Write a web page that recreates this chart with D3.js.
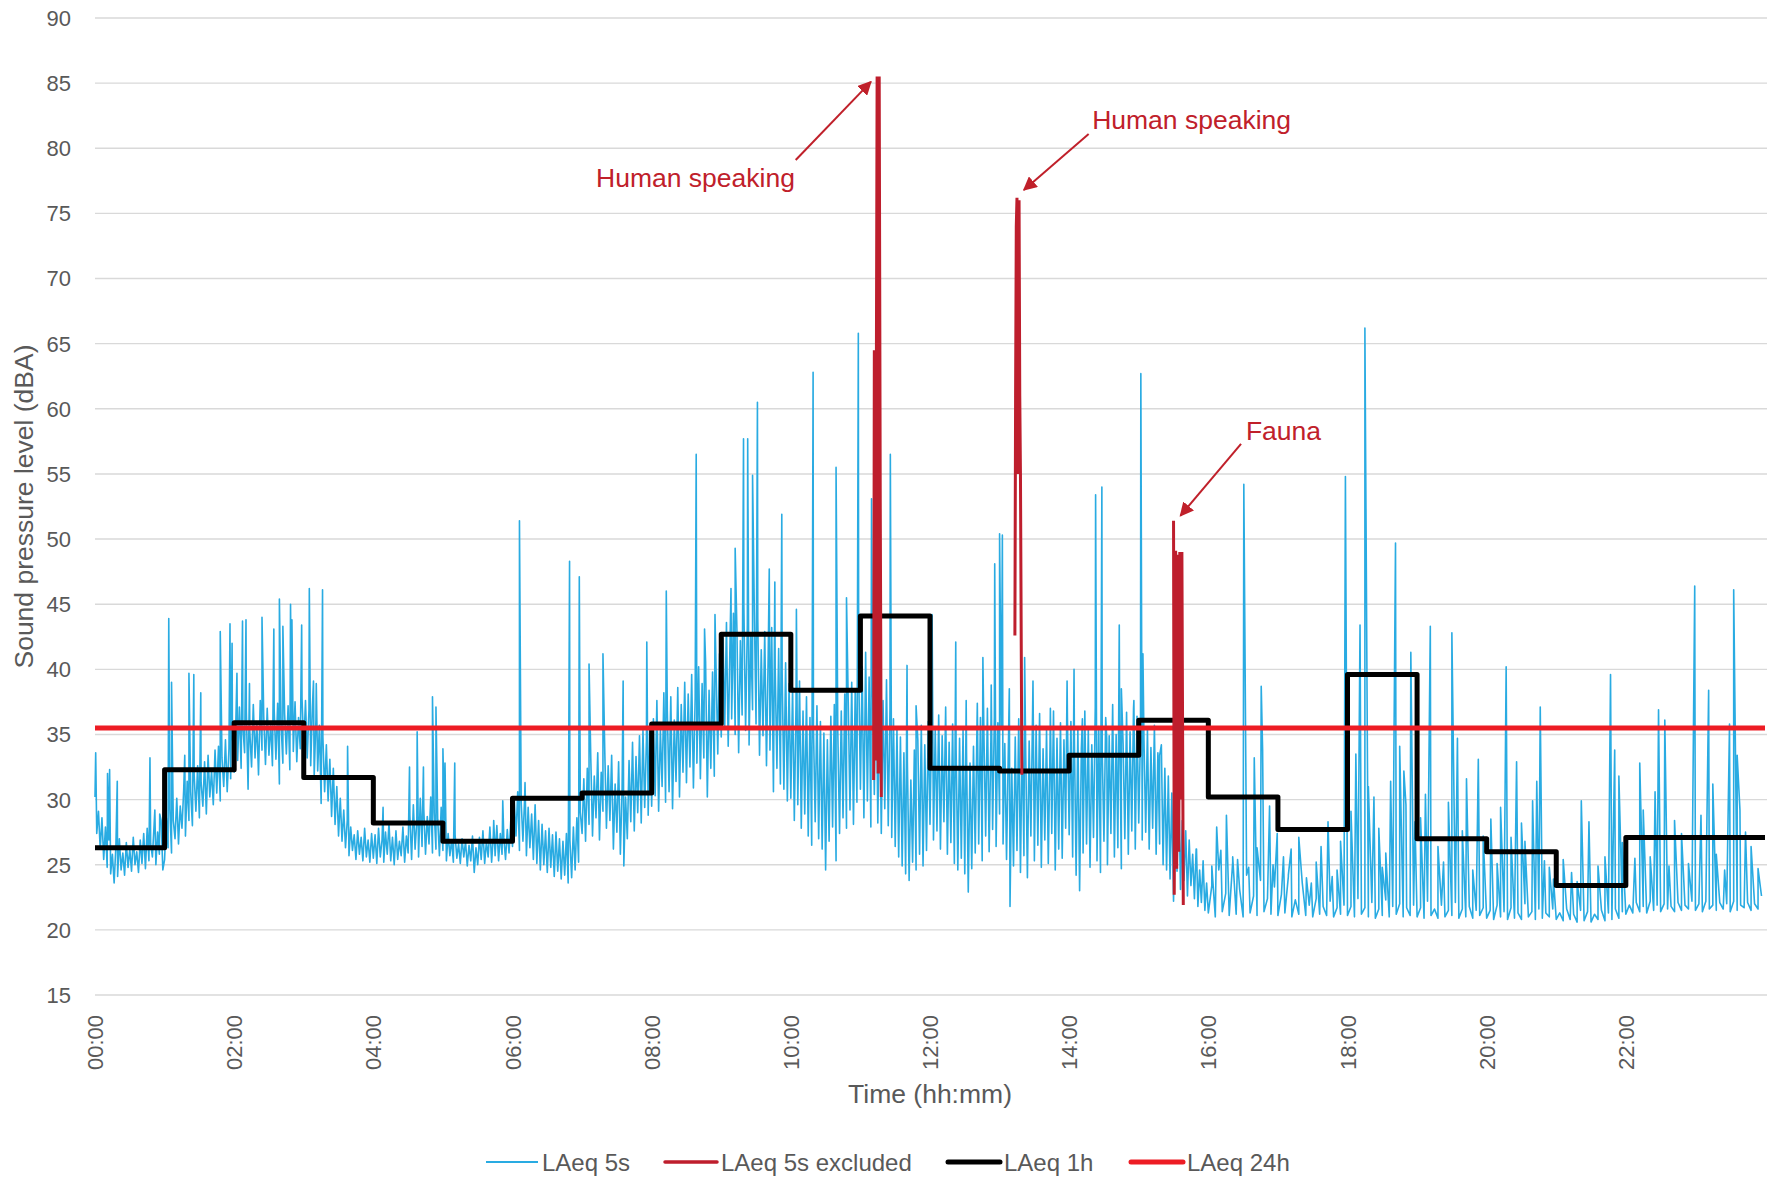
<!DOCTYPE html>
<html>
<head>
<meta charset="utf-8">
<script src="https://cdn.jsdelivr.net/npm/d3@7/dist/d3.min.js"></script>
<style>
  body { margin: 0; background: #fff; }
  svg { display: block; font-family: "Liberation Sans", Arial, sans-serif; }
  .grid line { stroke: #d9d9d9; stroke-width: 1.4; }
  .tick-label { fill: #595959; font-size: 22px; }
  .axis-title { fill: #595959; font-size: 26.5px; }
  .legend text { fill: #595959; font-size: 24px; }
  .note { fill: #c0202a; font-size: 26.5px; }
</style>
</head>
<body>
<div id="chart"></div>
<script>
// LAeq 5s, one row per hour (dBA); readings spread evenly over the hour
const laeq5s = [
  [30.2,27.4,29.1,26.2,28.6,25.4,27.9,24.8,26.9,24.3, 25.8,23.6,26.4,24.1,27.0,24.6,25.9,24.2,26.7,24.8, 26.2,24.5,27.1,25.0,26.0,24.4,26.9,25.1,27.4,24.7, 27.8,25.3,26.6,25.6,28.1,25.0,27.5,25.8,28.4,24.6],
  [25.4,28.6,26.3,29.3,25.9,28.4,27.0,30.1,26.6,29.5, 27.8,30.8,27.2,31.4,28.4,30.6,28.0,31.9,29.1,32.6, 28.6,31.3,29.5,32.9,28.9,33.4,30.2,32.2,29.6,33.8, 30.5,34.1,29.9,33.2,31.0,34.6,30.6,33.9,31.6,35.1],
  [32.1,36.2,33.0,37.1,32.4,35.6,33.6,36.8,30.8,35.2, 32.5,37.3,33.2,36.0,31.9,37.6,33.8,36.4,32.7,37.0, 33.4,35.9,32.6,36.9,33.1,37.4,31.2,35.7,32.8,36.6, 33.5,37.2,32.3,36.1,33.7,37.5,32.9,36.3,33.9,37.8],
  [34.0,37.6,33.2,36.9,32.6,37.2,31.8,36.1,32.2,35.7, 29.7,34.8,30.6,34.2,29.9,33.1,28.7,32.4,28.1,31.0, 27.2,30.1,26.8,29.2,26.3,28.4,25.7,27.9,26.1,27.3, 25.4,27.6,25.8,27.1,25.3,27.8,25.6,26.9,25.2,27.4],
  [25.5,27.3,25.1,27.8,25.6,26.9,25.2,27.5,25.8,28.2, 25.3,27.1,25.0,27.6,25.4,26.8,25.7,27.9,25.2,27.2, 25.9,28.8,25.4,29.6,26.2,28.4,25.6,30.1,26.4,29.3, 25.8,28.7,26.6,30.2,25.9,29.0,26.2,28.5,25.7,29.4],
  [26.1,28.2,25.3,27.4,25.7,26.9,25.2,27.3,25.5,26.6, 25.1,27.0,25.6,26.8,24.9,26.5,25.3,27.2,24.4,26.3, 25.0,27.1,25.4,27.6,25.1,26.8,25.6,27.9,25.2,27.3, 25.7,28.0,25.3,27.4,25.8,27.1,25.4,27.7,25.9,28.4],
  [26.4,30.1,27.2,30.6,26.1,29.8,26.8,30.2,25.7,29.4, 26.3,28.9,25.4,29.6,25.1,28.4,24.6,28.1,25.0,27.6, 24.4,27.8,24.8,27.3,24.1,27.5,24.5,27.0,23.9,26.8, 24.2,27.4,23.6,26.9,24.0,27.9,24.6,28.6,25.2,29.0],
  [27.4,31.6,26.8,32.4,28.1,33.2,27.2,31.8,28.6,33.6, 26.9,32.1,29.1,34.0,27.8,32.6,28.4,33.4,26.2,31.2, 27.5,32.9,25.8,30.8,24.9,30.2,27.0,33.0,28.3,34.4, 27.6,33.3,29.0,34.9,28.2,35.3,29.4,34.6,28.8,35.7],
  [29.5,36.2,30.3,37.6,29.1,35.4,31.0,38.2,29.8,36.8, 30.6,37.9,29.3,36.1,31.4,38.6,30.2,37.3,32.1,39.0, 31.3,38.1,32.5,39.6,30.9,37.8,32.8,40.2,31.6,38.9, 33.2,40.6,30.2,38.4,32.4,39.8,31.8,40.1,33.5,41.2],
  [34.8,42.4,35.6,43.6,34.1,41.8,36.2,44.3,35.0,43.1, 33.6,42.2,36.5,44.8,35.3,43.4,34.2,42.6,36.9,44.6, 35.8,43.9,33.4,41.5,34.9,42.9,32.6,41.2,33.8,43.2, 30.6,40.1,32.4,41.6,31.2,39.8,30.8,40.5,29.9,38.9],
  [30.1,38.6,28.4,37.4,29.6,39.1,27.8,36.8,28.9,37.9, 27.2,36.3,26.5,35.6,28.3,37.2,27.0,36.0,26.2,35.1, 24.6,34.6,26.8,36.4,27.9,37.3,25.3,35.2,27.4,36.8, 28.6,38.1,27.8,37.5,29.2,39.0,28.1,38.4,29.8,40.1],
  [30.8,40.2,28.6,41.3,29.9,39.4,27.9,38.6,30.4,40.8, 28.2,38.1,27.4,37.6,29.3,39.2,28.0,37.0,27.1,36.2, 26.4,35.4,25.6,34.8,24.9,33.6,24.3,32.9,23.8,31.5, 25.2,33.8,24.6,34.6,25.8,35.7,24.9,34.2,26.1,36.0],
  [28.1,36.8,26.9,35.4,27.6,36.5,26.2,34.9,28.3,37.1, 25.8,34.4,26.7,35.8,25.1,33.9,24.6,34.7,25.5,35.3, 24.3,33.6,22.9,32.8,24.7,34.1,25.9,35.6,26.6,36.3, 25.3,35.0,27.2,37.0,26.0,34.6,27.7,36.4,26.4,35.9],
  [28.9,35.6,26.6,34.3,25.4,33.6,21.8,32.4,24.9,34.8, 26.1,36.2,24.4,35.0,25.7,33.8,24.0,34.5,27.2,37.0, 25.3,35.7,26.5,36.6,24.8,33.9,26.9,35.4,25.1,34.1, 27.4,36.8,24.6,34.7,26.2,35.9,25.5,34.6,27.8,36.3],
  [27.3,36.0,25.6,34.8,24.2,35.5,23.0,33.9,25.9,36.8, 26.6,35.4,24.8,34.2,27.1,37.1,25.3,35.6,24.4,33.7, 26.8,36.3,25.0,34.9,27.4,37.3,25.6,35.0,26.3,36.1, 24.7,34.3,27.0,36.7,25.8,35.2,27.6,37.0,26.2,36.4],
  [28.2,35.1,26.9,34.6,27.5,35.4,26.2,34.0,27.8,35.7, 25.8,33.6,26.6,34.2,25.0,32.4,24.6,31.8,23.9,30.5, 22.2,29.6,24.5,30.9,23.1,28.4,23.8,27.6,22.6,26.9, 23.4,25.8,22.4,26.2,21.8,24.6,22.1,25.3,21.5,23.6],
  [21.3,23.4,21.0,24.6,21.4,22.8,21.1,25.2,21.2,23.1, 21.0,24.2,21.3,22.6,21.1,23.8,21.4,22.4,21.2,23.3],
  [21.1,22.7,21.3,24.1,21.0,22.3,21.2,23.6,21.1,21.9, 21.0,22.4,21.2,21.8,21.1,22.2,21.0,21.7,21.2,21.9],
  [21.1,21.8,21.0,22.4,21.2,21.7,21.0,22.1,20.9,21.6, 21.1,22.3,21.0,21.8,21.2,22.0,21.0,21.7,21.1,21.9],
  [21.0,21.7,20.9,22.2,21.1,21.6,20.9,21.9,21.0,21.5, 21.1,22.1,20.9,21.6,21.0,21.8,20.9,21.5,21.1,21.7],
  [20.9,21.5,20.8,21.9,21.0,21.4,20.8,21.7,20.9,21.3, 20.8,22.0,21.0,21.4,20.8,21.6,20.9,21.3,21.0,21.6],
  [20.8,21.3,20.7,21.6,20.8,21.2,20.6,21.5,20.7,21.4, 20.6,21.2,20.8,21.5,20.7,21.3,20.8,21.6,20.9,21.4],
  [21.2,21.9,21.3,22.1,21.4,21.8,21.3,22.2,21.5,21.9, 21.4,22.0,21.6,21.8,21.4,22.1,21.5,21.9,21.6,22.2],
  [21.5,22.0,21.4,22.2,21.6,21.9,21.5,22.1,21.6,22.0, 21.4,22.2,21.5,21.9,21.7,22.1,21.5,22.0,21.6,22.6]
]

// short peaks in the 5s record: [hour, dBA]
const laeq5sPeaks = [
  [0.01, 33.6], [0.18, 32.0], [0.21, 32.3], [0.32, 31.4], [0.79, 33.2], [0.86, 29.2], [0.93, 28.9],
  [1.06, 43.9], [1.1, 39.0], [1.29, 33.4], [1.35, 39.7], [1.42, 39.6], [1.52, 38.2], [1.8, 42.9], [1.94, 43.5], [1.97, 42.0],
  [2.04, 39.7], [2.12, 43.7], [2.17, 43.8], [2.22, 38.9], [2.4, 44.0], [2.57, 43.1], [2.65, 45.4], [2.7, 43.3], [2.81, 45.0], [2.83, 43.8], [2.97, 43.4],
  [3.08, 46.2], [3.14, 39.1], [3.18, 38.9], [3.27, 46.1], [3.63, 34.1], [4.14, 29.4], [4.52, 32.5], [4.63, 35.2], [4.72, 32.5],
  [4.85, 37.9], [4.9, 37.1], [5.0, 33.9], [5.03, 32.8], [5.17, 32.8], [5.73, 28.4], [5.86, 29.9],
  [6.1, 51.4], [6.18, 31.3], [6.82, 48.3], [6.96, 47.1], [7.1, 40.4], [7.3, 41.2], [7.59, 39.1], [7.93, 42.1], [8.21, 46.0],
  [8.64, 56.5], [8.76, 43.1], [8.91, 44.2], [9.14, 46.2], [9.2, 49.3], [9.32, 57.7], [9.38, 57.7], [9.45, 54.9], [9.52, 60.5],
  [9.69, 47.7], [9.77, 46.7], [9.87, 51.9], [10.08, 44.6], [10.32, 62.8], [10.65, 55.5], [10.8, 45.5], [10.97, 65.8],
  [11.16, 53.1], [11.43, 56.5], [11.67, 40.3], [11.8, 37.2],
  [12.03, 44.2], [12.37, 42.1], [12.52, 37.6], [12.68, 37.4], [12.76, 40.9], [12.88, 38.8], [12.93, 48.1], [13.0, 50.4], [13.04, 50.3],
  [13.14, 38.5], [13.36, 40.9], [13.48, 39.1], [13.73, 37.0], [13.97, 39.1], [14.07, 40.0], [14.19, 36.2], [14.38, 53.4], [14.47, 54.0],
  [14.54, 34.7], [14.72, 43.4], [14.75, 38.5], [14.93, 37.6], [15.03, 62.7], [15.06, 41.2], [15.3, 33.4], [15.83, 26.2],
  [16.05, 24.9], [16.12, 27.9], [16.18, 26.1], [16.26, 28.8], [16.35, 25.6], [16.42, 25.4], [16.51, 54.2], [16.58, 24.8],
  [16.66, 33.2], [16.7, 26.3], [16.76, 38.7], [16.78, 33.8], [16.88, 29.5], [16.93, 25.0], [16.99, 27.4],
  [17.08, 25.6], [17.15, 24.2], [17.19, 26.2], [17.3, 27.1], [17.41, 24.0], [17.48, 23.6], [17.55, 25.2], [17.62, 26.4],
  [17.72, 28.3], [17.78, 24.1], [17.85, 24.6], [17.9, 26.8], [17.97, 54.8],
  [18.05, 29.1], [18.12, 33.5], [18.18, 43.4], [18.25, 66.2], [18.3, 31.0], [18.38, 30.2], [18.45, 27.8], [18.5, 24.8], [18.55, 25.9],
  [18.62, 31.4], [18.69, 49.7], [18.75, 34.1], [18.81, 32.2], [18.84, 29.6], [18.91, 41.3], [18.97, 28.3],
  [19.05, 28.6], [19.12, 30.4], [19.19, 43.3], [19.3, 26.4], [19.38, 25.2], [19.45, 29.8], [19.5, 42.8], [19.58, 34.7],
  [19.65, 27.6], [19.71, 31.6], [19.8, 24.6], [19.88, 33.1], [19.95, 27.2],
  [20.06, 28.5], [20.15, 25.1], [20.2, 29.4], [20.28, 40.2], [20.35, 27.1], [20.43, 32.9], [20.5, 28.2], [20.55, 26.8],
  [20.66, 29.9], [20.72, 31.4], [20.77, 37.1], [20.83, 25.3], [20.9, 24.8], [20.96, 23.9],
  [21.1, 25.4], [21.22, 24.4], [21.3, 23.7], [21.36, 29.9], [21.47, 28.3], [21.6, 24.9], [21.7, 25.6], [21.78, 39.6],
  [21.84, 33.8], [21.9, 31.8], [21.95, 26.7],
  [22.13, 25.5], [22.2, 32.8], [22.25, 29.2], [22.35, 25.6], [22.42, 30.6], [22.47, 36.9], [22.56, 36.1], [22.62, 24.9],
  [22.7, 28.4], [22.8, 27.4], [22.9, 25.1], [22.99, 46.4],
  [23.08, 28.8], [23.19, 38.4], [23.25, 31.2], [23.3, 25.8], [23.42, 24.6], [23.49, 35.8], [23.55, 46.1], [23.6, 33.4],
  [23.64, 29.2], [23.72, 27.5], [23.8, 26.4], [23.9, 24.7]
]

// excluded 5s records: [hour, dBA]
const excludedSpeech1 = [[11.19, 31.5], [11.2, 64.5], [11.215, 33.0], [11.24, 85.5], [11.255, 32.0], [11.27, 85.5], [11.285, 52.8], [11.3, 30.2]]
const excludedSpeech2 = [[13.22, 42.6], [13.23, 60.9], [13.24, 74.0], [13.25, 76.2], [13.26, 55.0], [13.27, 74.5], [13.28, 76.0], [13.29, 61.0], [13.3, 55.0], [13.32, 31.9]]
const excludedFauna = [[15.5, 51.4], [15.51, 22.7], [15.53, 49.1], [15.545, 24.7], [15.56, 48.8], [15.575, 26.0], [15.59, 49.0], [15.6, 30.0], [15.62, 49.0], [15.64, 21.9]]

// LAeq 1h, one value per hour starting 00:00
const laeq1h = [26.3, 32.3, 35.9, 31.7, 28.2, 26.8, 30.1, 30.5, 35.8, 42.7, 38.4, 44.1,
                32.4, 32.2, 33.4, 36.1, 30.2, 27.7, 39.6, 27.0, 26.0, 23.4, 27.1, 27.1]
const laeq24h = 35.5

const yTicks = [15, 20, 25, 30, 35, 40, 45, 50, 55, 60, 65, 70, 75, 80, 85, 90]
const xTicks = [0, 2, 4, 6, 8, 10, 12, 14, 16, 18, 20, 22]

// annotations: label anchor and arrow in [hour, dBA]
const notes = [
  { text: 'Human speaking', at: [8.63, 77.0], anchor: 'middle', from: [10.07, 79.1], to: [11.15, 85.1] },
  { text: 'Human speaking', at: [14.33, 81.5], anchor: 'start', from: [14.28, 81.1], to: [13.35, 76.8] },
  { text: 'Fauna', at: [16.54, 57.6], anchor: 'start', from: [16.47, 57.3], to: [15.6, 51.8] }
]

const series = [
  { name: 'LAeq 5s', color: '#29abe2', width: 2 },
  { name: 'LAeq 5s excluded', color: '#be1e2d', width: 3.5 },
  { name: 'LAeq 1h', color: '#000000', width: 5 },
  { name: 'LAeq 24h', color: '#ed1c24', width: 5 }
]

const W = 1774, H = 1179
const margin = { top: 18, right: 9, bottom: 184, left: 95 }

const x = d3.scaleLinear().domain([0, 24]).range([margin.left, W - margin.right])
const y = d3.scaleLinear().domain([15, 90]).range([H - margin.bottom, margin.top])

const svg = d3.select('#chart').append('svg')
  .attr('width', W)
  .attr('height', H)

svg.append('defs').append('marker')
  .attr('id', 'arrow')
  .attr('viewBox', '0 0 10 10')
  .attr('refX', 9).attr('refY', 5)
  .attr('markerWidth', 7).attr('markerHeight', 7)
  .attr('orient', 'auto')
  .append('path').attr('d', 'M0,0 L10,5 L0,10 z').attr('fill', '#c0202a')

// gridlines + y labels
const grid = svg.append('g').classed('grid', true)
grid.selectAll('line').data(yTicks).enter().append('line')
  .attr('x1', x(0)).attr('x2', W - margin.right + 2)
  .attr('y1', d => y(d)).attr('y2', d => y(d))

svg.append('g').selectAll('text').data(yTicks).enter().append('text')
  .classed('tick-label', true)
  .attr('x', margin.left - 24)
  .attr('y', d => y(d))
  .attr('dy', '0.36em')
  .attr('text-anchor', 'end')
  .text(d => d)

svg.append('g').selectAll('text').data(xTicks).enter().append('text')
  .classed('tick-label', true)
  .attr('transform', d => 'translate(' + (x(d) + 8) + ', ' + (y(15) + 20) + ') rotate(-90)')
  .attr('text-anchor', 'end')
  .text(d => d3.format('02')(d) + ':00')

svg.append('text').classed('axis-title', true)
  .attr('x', (x(0) + x(24)) / 2)
  .attr('y', 1103)
  .attr('text-anchor', 'middle')
  .text('Time (hh:mm)')

svg.append('text').classed('axis-title', true)
  .attr('transform', 'translate(33, ' + (y(15) + y(90)) / 2 + ') rotate(-90)')
  .attr('text-anchor', 'middle')
  .text('Sound pressure level (dBA)')

// LAeq 5s
const fivesec = []
laeq5s.forEach((row, h) => row.forEach((v, i) => fivesec.push([h + i / row.length, v])))
laeq5sPeaks.forEach(p => fivesec.push(p))
fivesec.sort((a, b) => a[0] - b[0])

const line = d3.line().x(d => x(d[0])).y(d => y(d[1]))

svg.append('path').datum(fivesec)
  .attr('d', line)
  .attr('fill', 'none')
  .attr('stroke', series[0].color)
  .attr('stroke-width', 1.6)
  .attr('stroke-linejoin', 'round')

// LAeq 1h steps
const steps = laeq1h.map((v, i) => [i, v]).concat([[24, laeq1h[23]]])
svg.append('path').datum(steps)
  .attr('d', d3.line().curve(d3.curveStepAfter).x(d => x(d[0])).y(d => y(d[1])))
  .attr('fill', 'none')
  .attr('stroke', series[2].color)
  .attr('stroke-width', series[2].width)
  .attr('stroke-linejoin', 'round')

// LAeq 24h
svg.append('path').datum([[0, laeq24h], [24, laeq24h]])
  .attr('d', line)
  .attr('stroke', series[3].color)
  .attr('stroke-width', series[3].width)

// excluded
svg.append('g').selectAll('path')
  .data([excludedSpeech1, excludedSpeech2, excludedFauna]).enter()
  .append('path')
  .attr('d', line)
  .attr('fill', 'none')
  .attr('stroke', series[1].color)
  .attr('stroke-width', 3)

// annotations
const note = svg.append('g').selectAll('g').data(notes).enter().append('g')
note.append('text').classed('note', true)
  .attr('x', d => x(d.at[0]))
  .attr('y', d => y(d.at[1]))
  .attr('text-anchor', d => d.anchor)
  .text(d => d.text)
note.append('line')
  .attr('x1', d => x(d.from[0])).attr('y1', d => y(d.from[1]))
  .attr('x2', d => x(d.to[0])).attr('y2', d => y(d.to[1]))
  .attr('stroke', '#c0202a')
  .attr('stroke-width', 2)
  .attr('marker-end', 'url(#arrow)')

// legend
const legendX = [486, 665, 948, 1131]
const legend = svg.append('g').classed('legend', true)
  .selectAll('g').data(series).enter().append('g')
  .attr('transform', (d, i) => 'translate(' + legendX[i] + ', 1162)')
legend.append('line')
  .attr('x1', 0).attr('x2', 52)
  .attr('stroke', d => d.color)
  .attr('stroke-width', d => d.width)
  .attr('stroke-linecap', d => d.width > 3 ? 'round' : 'butt')
legend.append('text')
  .attr('x', 56)
  .attr('dy', '0.36em')
  .text(d => d.name)
</script>
</body>
</html>
